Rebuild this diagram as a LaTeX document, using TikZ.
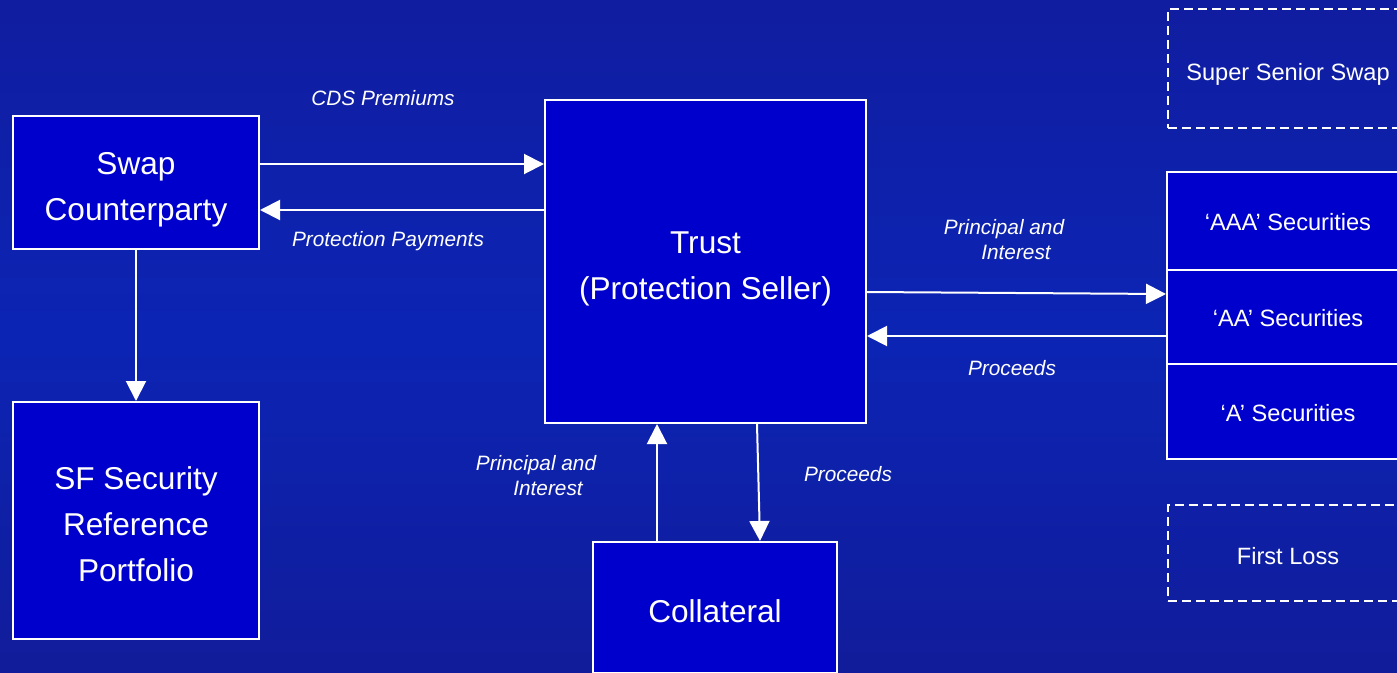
\documentclass[tikz,border=0pt]{standalone}
\usepackage{fontspec}
\setmainfont{Liberation Sans}
\usetikzlibrary{arrows.meta}

\definecolor{bgtop}{RGB}{20,22,140}
\definecolor{bgmid}{RGB}{12,36,180}
\definecolor{bgbot}{RGB}{22,20,128}
\definecolor{boxblue}{RGB}{0,0,204}

% backdrop runs dark - bright - dark from bottom to top
\pgfdeclareverticalshading{backdrop}{100bp}{color(0bp)=(bgbot); color(50bp)=(bgmid); color(100bp)=(bgtop)}

\newcommand\boxfont{\fontsize{31.6}{46}\selectfont}
\newcommand\tierfont{\fontsize{23.6}{28}\selectfont}
\newcommand\tagfont{\fontsize{20.8}{25}\selectfont\itshape}
% strut for the first and last line of a box text
\newcommand\tall{\rule[-7pt]{0pt}{44pt}}

\tikzset{
  box/.style={draw=white, line width=2pt, fill=boxblue, text=white,
    inner sep=0pt, align=center, font=\boxfont},
  tier/.style={draw=white, line width=2pt, fill=boxblue, text=white,
    inner sep=0pt, font=\tierfont, minimum width=242pt,
    text height=22pt, text depth=3pt},
  ghost/.style={draw=white, line width=2pt, dash pattern=on 9pt off 5pt,
    text=white, inner sep=0pt, font=\tierfont, minimum width=240pt,
    text height=25pt, text depth=2pt},
  flow/.style={draw=white, line width=2pt, -{Triangle[length=20pt,width=20pt]}},
  tag/.style={text=white, font=\tagfont, align=left, inner sep=0pt}
}

\begin{document}
\begin{tikzpicture}[x=1pt, y=-1pt]
  % Canvas and backdrop
  \clip (0,0) rectangle (1397,672);
  \shade[shading=backdrop] (0,0) rectangle (1397,672);

  % Main parties
  \node[box, minimum width=246pt, minimum height=133pt] (swap) at (136,182.5)
    {\tall Swap\\\tall Counterparty};
  \node[box, minimum width=246pt, minimum height=237pt] (sf) at (136,520.5)
    {\tall SF Security\\Reference\\\tall Portfolio};
  \node[box, minimum width=321pt, minimum height=323pt] (trust) at (705.5,261.5)
    {\tall Trust\\\tall (Protection Seller)};
  \node[box, minimum width=244pt, minimum height=131pt] (coll) at (715,607.5)
    {\tall Collateral};

  % Capital structure on the right
  \node[ghost, minimum height=119pt] (super) at (1288,68.5) {Super Senior Swap};
  \node[tier, minimum height=98pt] (aaa) at (1288,221) {‘AAA’ Securities};
  \node[tier, minimum height=94pt] (aa) at (1288,317) {‘AA’ Securities};
  \node[tier, minimum height=95pt] (a) at (1288,411.5) {‘A’ Securities};
  \node[ghost, minimum height=96pt] (first) at (1288,553) {First Loss};

  % Swap counterparty <-> trust
  \draw[flow] ([yshift=18.5pt]swap.east) -- ([yshift=97.5pt]trust.west);
  \draw[flow] ([yshift=51.5pt]trust.west) -- ([yshift=-27.5pt]swap.east);
  \draw[flow] (swap.south) -- (sf.north);

  % Trust <-> notes
  \draw[flow] ([yshift=-30.5pt]trust.east) -- ([yshift=23pt]aa.west);
  \draw[flow] ([yshift=-19pt]aa.west) -- ([yshift=-74.5pt]trust.east);

  % Trust <-> collateral
  \draw[flow] ([xshift=-58pt]coll.north) -- ([xshift=-48.5pt]trust.south);
  \draw[flow] ([xshift=51.5pt]trust.south) -- ([xshift=45pt]coll.north);

  % Flow labels
  \node[tag] (premiums) at (383,98) {CDS Premiums};
  \node[tag] (payments) at (388,241) {Protection Payments};
  \node[tag] (pirights) at (1004,240) {Principal and\\\hspace*{1.8em}Interest};
  \node[tag] (procright) at (1012,368) {Proceeds};
  \node[tag] (pileft) at (536,476) {Principal and\\\hspace*{1.8em}Interest};
  \node[tag] (proclow) at (848,474) {Proceeds};
\end{tikzpicture}
\end{document}
